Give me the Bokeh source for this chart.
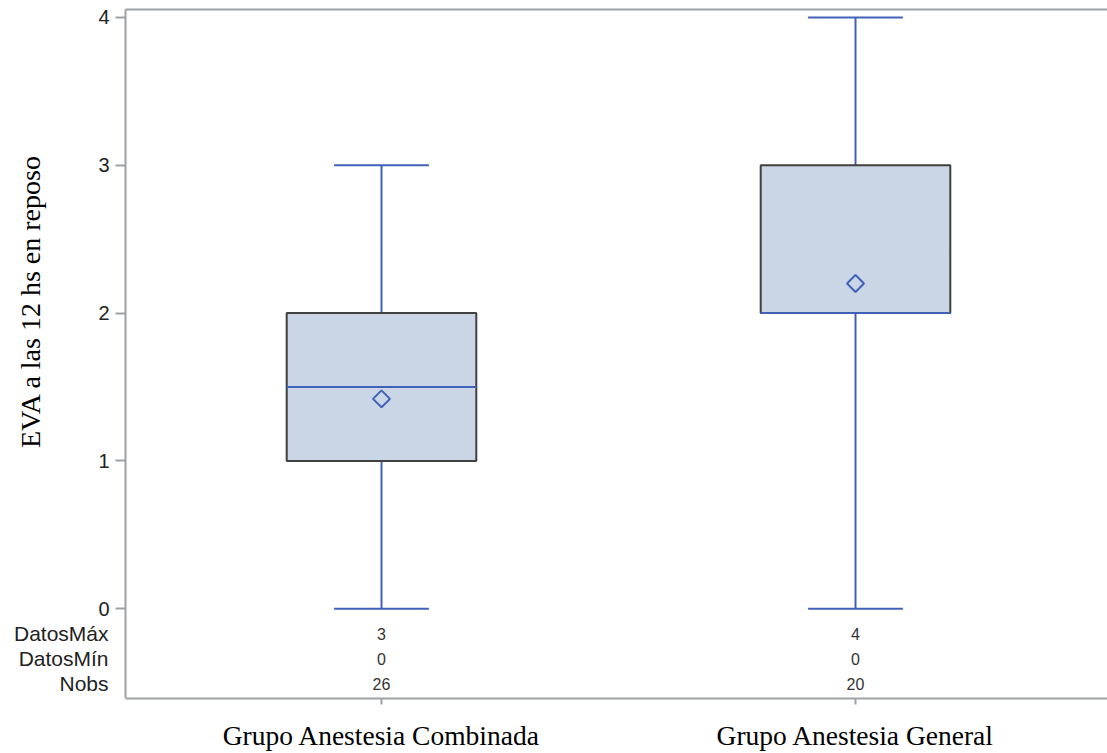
import math
from bokeh.plotting import figure
from bokeh.models import Range1d, FixedTicker, ColumnDataSource
from bokeh.core.properties import value
from bokeh.embed import file_html
from bokeh.resources import INLINE

# ---- data ----
groups = ["Grupo Anestesia Combinada", "Grupo Anestesia General"]
xpos = [1, 2]
q_min = [0, 0]
q1 = [1, 2]
median = [1.5, 2]
q3 = [2, 3]
q_max = [3, 4]
means = [1.42, 2.2]
datos_max = [3, 4]
datos_min = [0, 0]
nobs = [26, 20]
table_rows = ["DatosMáx", "DatosMín", "Nobs"]
table_y = [-0.169, -0.337, -0.506]
y_ticks = [0, 1, 2, 3, 4]
y_title = "EVA a las 12 hs en reposo"

BLUE = "#3F62B8"
FILL = "#CAD5E5"
EDGE = "#404040"
AXIS = "#9EA2A6"

PX = 474.0            # pixels per x unit
X0 = 1 - 381 / PX     # left edge of canvas in data units
X1 = X0 + 1107 / PX
AX_X = X0 + 125 / PX  # location of the y axis
PY = 148.25
Y_TOP = 4 + 17 / PY
Y_BOT = -90 / PY
Y_FRAME_TOP = 4 + 8 / PY

p = figure(width=1107, height=753, output_backend="svg", toolbar_location=None,
           x_range=Range1d(X0, X1), y_range=Range1d(Y_BOT, Y_TOP),
           min_border_left=0, min_border_right=0, min_border_top=0, min_border_bottom=53)
p.outline_line_color = None
p.xgrid.grid_line_color = None
p.ygrid.grid_line_color = None
p.background_fill_color = "white"
p.border_fill_color = "white"

# top frame line
p.segment(x0=[AX_X], y0=[Y_FRAME_TOP], x1=[X1], y1=[Y_FRAME_TOP], line_color=AXIS, line_width=2)

box_w = 0.4
cap_w = 0.2
src = ColumnDataSource(dict(x=xpos, q_min=q_min, q1=q1, med=median, q3=q3, q_max=q_max,
                            mean=means, dmax=[str(v) for v in datos_max],
                            dmin=[str(v) for v in datos_min], nobs=[str(v) for v in nobs]))

# whiskers
p.segment(x0="x", y0="q3", x1="x", y1="q_max", source=src, line_color=BLUE, line_width=2)
p.segment(x0="x", y0="q1", x1="x", y1="q_min", source=src, line_color=BLUE, line_width=2)
xl = [x - cap_w / 2 for x in xpos]
xr = [x + cap_w / 2 for x in xpos]
p.segment(x0=xl, y0=q_max, x1=xr, y1=q_max, line_color=BLUE, line_width=2)
p.segment(x0=xl, y0=q_min, x1=xr, y1=q_min, line_color=BLUE, line_width=2)

# boxes
p.vbar(x="x", width=box_w, bottom="q1", top="q3", source=src,
       fill_color=FILL, line_color=EDGE, line_width=2)
# median
bl = [x - box_w / 2 for x in xpos]
br = [x + box_w / 2 for x in xpos]
p.segment(x0=bl, y0=median, x1=br, y1=median, line_color=BLUE, line_width=2)
# mean
p.scatter(x="x", y="mean", source=src, marker="square", angle=math.pi / 4, size=12,
          fill_color=None, line_color=BLUE, line_width=2)

# table values
for col, yy in zip(["dmax", "dmin", "nobs"], table_y):
    p.text(x="x", y=yy, text=col, source=src, text_align="center", text_baseline="middle",
           text_font=value("Liberation Sans"), text_font_size="16px", text_color="#333333")

# table row labels (left of the y axis)
p.text(x=[AX_X - 17 / PX] * 3, y=table_y, text=table_rows, text_align="right",
       text_baseline="middle", text_font=value("Liberation Sans"), text_font_size="21px",
       text_color="#222222")

# y title
p.text(x=[X0 + 30 / PX], y=[2.08], text=[y_title], angle=math.pi / 2,
       text_align="center", text_baseline="middle",
       text_font=value("Liberation Serif"), text_font_size="28px", text_color="#000000")

# axes
ya = p.yaxis[0]
ya.fixed_location = AX_X
ya.bounds = (Y_BOT, Y_FRAME_TOP)
ya.ticker = FixedTicker(ticks=y_ticks)
ya.axis_line_color = AXIS
ya.axis_line_width = 2
ya.major_tick_line_color = AXIS
ya.major_tick_line_width = 2
ya.major_tick_out = 10
ya.major_tick_in = 0
ya.minor_tick_line_color = None
ya.major_label_standoff = 6
ya.major_label_text_font = "Liberation Sans"
ya.major_label_text_font_size = "20px"
ya.major_label_text_color = "#222222"

xa = p.xaxis[0]
xa.bounds = (AX_X, X1)
xa.ticker = FixedTicker(ticks=xpos)
xa.major_label_overrides = {x: g for x, g in zip(xpos, groups)}
xa.axis_line_color = AXIS
xa.axis_line_width = 2
xa.major_tick_line_color = AXIS
xa.major_tick_line_width = 2
xa.major_tick_out = 6
xa.major_tick_in = 0
xa.minor_tick_line_color = None
xa.major_label_standoff = 15
xa.major_label_text_font = "Liberation Serif"
xa.major_label_text_font_size = "27.5px"
xa.major_label_text_color = "#000000"

open("out.html", "w").write(file_html(p, INLINE))
